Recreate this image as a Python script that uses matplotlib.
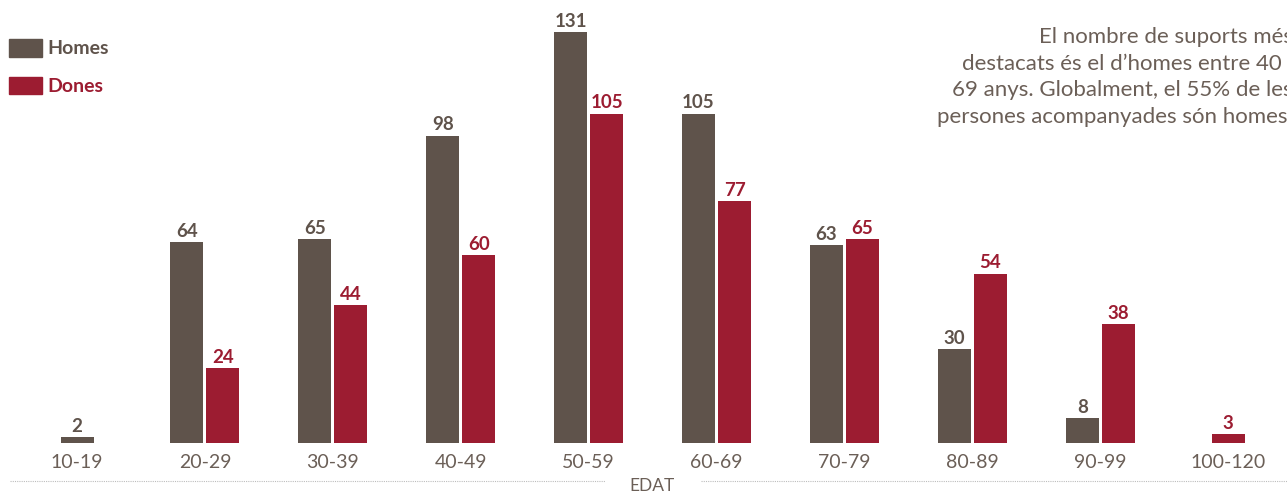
import matplotlib
matplotlib.use("Agg")
import matplotlib.pyplot as plt
import numpy as np

# dades
edats = ["10-19", "20-29", "30-39", "40-49", "50-59", "60-69", "70-79", "80-89", "90-99", "100-120"]
homes = [2, 64, 65, 98, 131, 105, 63, 30, 8, 0]
dones = [0, 24, 44, 60, 105, 77, 65, 54, 38, 3]

color_homes = "#5f534b"
color_dones = "#9c1c31"
color_text = "#6b5f57"

plt.rcParams['font.family'] = ['Lato', 'DejaVu Sans']

fig = plt.figure(figsize=(12.87, 4.93), dpi=100)
ax = fig.add_axes([0, 50 / 493, 1, 443 / 493])

x = np.arange(len(edats))
amplada = 0.258
despl = 0.141

for i in x:
    h, d = homes[i], dones[i]
    if h > 0 and d > 0:
        xh, xd = i - despl, i + despl
    else:
        xh, xd = i, i
    if h > 0:
        ax.bar(xh, h, amplada, color=color_homes)
        ax.annotate(str(h), (xh, h), xytext=(0, 1.5), textcoords='offset points',
                    ha='center', va='bottom', fontsize=13.5, fontweight='bold', color=color_homes)
    if d > 0:
        ax.bar(xd, d, amplada, color=color_dones)
        ax.annotate(str(d), (xd, d), xytext=(0, 1.5), textcoords='offset points',
                    ha='center', va='bottom', fontsize=13.5, fontweight='bold', color=color_dones)

ax.set_xlim(-0.602, 9.46)
ax.set_ylim(0, 141.2)
ax.set_xticks(x)
ax.set_xticklabels(edats, fontsize=14, color=color_text)
ax.tick_params(axis='x', length=0, pad=8)
ax.set_yticks([])
for s in ax.spines.values():
    s.set_visible(False)
ax.patch.set_alpha(0)

# eix EDAT amb línia puntejada
ax.plot([0.008, 0.47], [-0.085, -0.085], transform=ax.transAxes, clip_on=False,
        color="#bdbdbd", lw=0.8, ls=(0, (1, 1)))
ax.plot([0.545, 1.0], [-0.085, -0.085], transform=ax.transAxes, clip_on=False,
        color="#bdbdbd", lw=0.8, ls=(0, (1, 1)))
fig.text(652 / 1287, 7 / 493, "EDAT", ha='center', va='center', fontsize=12.5,
         color=color_text)

# llegenda
fig.patches.append(plt.Rectangle((9 / 1287, (493 - 57) / 493), 33 / 1287, 18 / 493,
                                 transform=fig.transFigure, color=color_homes))
fig.patches.append(plt.Rectangle((9 / 1287, (493 - 94) / 493), 33 / 1287, 17 / 493,
                                 transform=fig.transFigure, color=color_dones))
fig.text(47 / 1287, 1 - 48 / 493, "Homes", ha='left', va='center', fontsize=14,
         fontweight='bold', color=color_homes)
fig.text(47 / 1287, 1 - 86 / 493, "Dones", ha='left', va='center', fontsize=14,
         fontweight='bold', color=color_dones)

# comentari
comentari = ("El nombre de suports més\n"
             "destacats és el d’homes entre 40 i\n"
             "69 anys. Globalment, el 55% de les\n"
             "persones acompanyades són homes.")
fig.text(1293 / 1287, 1 - 27 / 493, comentari, ha='right', va='top', fontsize=16,
         color=color_text, linespacing=1.42, multialignment='right')

fig.savefig("out.png", dpi=100)
